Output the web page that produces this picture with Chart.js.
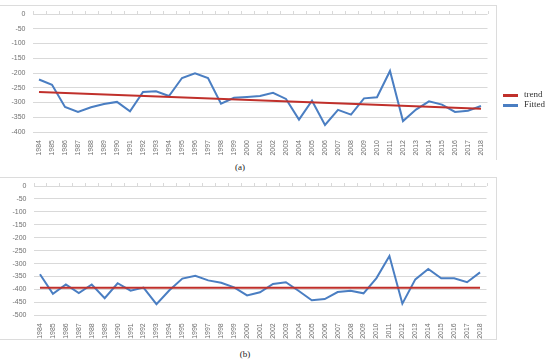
<!DOCTYPE html>
<html>
<head>
<meta charset="utf-8">
<script src="https://cdn.jsdelivr.net/npm/chart.js@4/dist/chart.umd.min.js"></script>
<style>
  html, body { margin: 0; padding: 0; background: #fff; }
  body { width: 550px; height: 362px; position: relative; overflow: hidden; }
  canvas { position: absolute; left: 0; }
  .frame { position: absolute; border-top: 1px solid #dcdcdc; border-right: 1px solid #dcdcdc; }
  .cap { position: absolute; font-family: "Liberation Serif", "Times New Roman", serif; font-size: 9px; color: #222; transform: translateX(-50%); }
  .leg { position: absolute; font-family: "Liberation Serif", "Times New Roman", serif; font-size: 9px; color: #333; }
  .sw { position: absolute; width: 15px; height: 3px; }
</style>
</head>
<body>
<div class="frame" style="left:-2px; top:5px; width:498px; height:154px;"></div>
<div class="frame" style="left:-2px; top:177px; width:498px; height:161px; border-bottom:1px solid #dcdcdc;"></div>
<canvas id="cA" width="550" height="160" style="top:0px;width:550px;height:160px;"></canvas>
<canvas id="cB" width="550" height="168" style="top:172px;width:550px;height:168px;"></canvas>
<div class="sw" style="left:503px; top:94px; background:#c0302b;"></div>
<div class="leg" style="left:524px; top:89px;">trend</div>
<div class="sw" style="left:503px; top:104px; background:#4a7ec2;"></div>
<div class="leg" style="left:524px; top:99px;">Fitted</div>
<div class="cap" style="left:240px; top:162px;">(a)</div>
<div class="cap" style="left:245px; top:349px;">(b)</div>
<script>
const years = ['1984','1985','1986','1987','1988','1989','1990','1991','1992','1993','1994','1995','1996','1997','1998','1999','2000','2001','2002','2003','2004','2005','2006','2007','2008','2009','2010','2011','2012','2013','2014','2015','2016','2017','2018'];

const fittedA = [-222,-240,-315,-332,-316,-305,-298,-330,-264,-262,-278,-217,-201,-217,-304,-284,-281,-278,-267,-288,-358,-294,-376,-325,-341,-286,-282,-193,-363,-324,-296,-307,-332,-328,-312];
const trendYearsA = ['1984','2018'];
const trendValuesA = [-264,-321];

const fittedB = [-341,-417,-381,-414,-381,-434,-376,-405,-393,-457,-403,-358,-347,-365,-374,-392,-423,-411,-379,-372,-406,-442,-437,-410,-405,-415,-356,-271,-455,-361,-321,-357,-357,-372,-334];
const trendYearsB = ['1984','2018'];
const trendValuesB = [-393,-393];

const ticksA = { min: -400, max: 0, step: 50 };
const ticksB = { min: -500, max: 0, step: 50 };

const RED = '#c0302b';
const BLUE = '#4a7ec2';
const GRID = '#d9d9d9';
const LABEL = '#6f6f6f';
const FONT = { family: 'Liberation Sans, Arial, sans-serif', size: 7 };

// small category tick marks along the zero line, placed from the x scale
const topTicks = {
  id: 'topTicks',
  afterDraw(chart) {
    const x = chart.scales.x, y = chart.scales.y, ctx = chart.ctx;
    const y0 = Math.round(y.getPixelForValue(0));
    const n = x.ticks.length;
    const half = (x.getPixelForTick(1) - x.getPixelForTick(0)) / 2;
    ctx.save();
    ctx.strokeStyle = GRID;
    ctx.lineWidth = 1;
    ctx.beginPath();
    for (let i = 0; i <= n; i++) {
      const base = i < n ? x.getPixelForTick(i) - half : x.getPixelForTick(n - 1) + half;
      const px = Math.round(base) + 0.5;
      ctx.moveTo(px, y0 - 3);
      ctx.lineTo(px, y0);
    }
    ctx.stroke();
    ctx.restore();
  }
};

function makeChart(id, fitted, tYears, tVals, tk, cfg) {
  const trendPts = tYears.map((y, i) => ({ x: y, y: tVals[i] }));
  return new Chart(document.getElementById(id), {
    type: 'line',
    data: {
      labels: years,
      datasets: [
        { label: 'trend', data: trendPts, borderColor: RED, borderWidth: 2, pointRadius: 0, spanGaps: true },
        { label: 'Fitted', data: fitted, borderColor: BLUE, borderWidth: 2, pointRadius: 0 }
      ]
    },
    options: {
      responsive: false,
      devicePixelRatio: 1,
      animation: false,
      layout: { padding: { right: cfg.right, top: 14 } },
      plugins: { legend: { display: false }, tooltip: { enabled: false } },
      scales: {
        x: {
          offset: true,
          grid: { display: false },
          border: { display: false },
          ticks: { autoSkip: false, minRotation: 90, maxRotation: 90, padding: 0, color: LABEL, font: FONT },
          afterFit: s => { s.height = cfg.bottomH; }
        },
        y: {
          min: tk.min, max: tk.max,
          grid: { color: GRID, drawTicks: false },
          border: { display: false },
          ticks: { stepSize: tk.step, padding: 7, color: LABEL, font: FONT },
          afterFit: s => { s.width = cfg.left; }
        }
      }
    },
    plugins: [topTicks]
  });
}

makeChart('cA', fittedA, trendYearsA, trendValuesA, ticksA, { left: 32.5, right: 62.5, bottomH: 28 });
makeChart('cB', fittedB, trendYearsB, trendValuesB, ticksB, { left: 33.5, right: 63.5, bottomH: 24.7 });
</script>
</body>
</html>
